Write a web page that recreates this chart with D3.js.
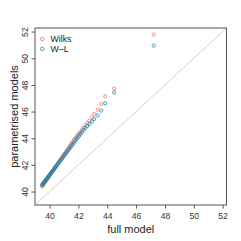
<!DOCTYPE html>
<html><head><meta charset="utf-8">
<script src="https://cdn.jsdelivr.net/npm/d3@7"></script>
<style>html,body{margin:0;padding:0;background:#fff;}svg{display:block;}</style>
</head><body>
<svg id="c" width="241" height="241"></svg>
<script>
const fullModel = [39.48,39.52,39.56,39.60,39.64,39.68,39.72,39.76,39.80,39.84,39.88,39.92,39.96,40.00,40.05,40.10,40.15,40.20,40.25,40.30,40.35,40.40,40.46,40.52,40.58,40.64,40.70,40.77,40.84,40.91,40.98,41.05,41.12,41.20,41.28,41.36,41.44,41.52,41.60,41.69,41.78,41.87,41.96,42.05,42.15,42.25,42.36,42.48,42.62,42.76,42.94,43.10,43.34,43.59,43.86,44.48,47.22];
const wilks = [40.38,40.44,40.51,40.57,40.63,40.70,40.76,40.82,40.89,40.95,41.01,41.08,41.14,41.20,41.28,41.36,41.44,41.52,41.60,41.68,41.75,41.83,41.93,42.02,42.12,42.21,42.31,42.42,42.53,42.64,42.75,42.86,42.97,43.10,43.22,43.35,43.48,43.60,43.73,43.87,44.01,44.13,44.25,44.37,44.50,44.64,44.80,44.96,45.14,45.32,45.56,45.82,46.14,46.57,47.14,47.72,51.78];
const wl = [40.50,40.56,40.61,40.67,40.73,40.79,40.84,40.90,40.96,41.01,41.07,41.13,41.19,41.24,41.32,41.39,41.46,41.53,41.60,41.67,41.74,41.82,41.90,41.99,42.07,42.16,42.24,42.34,42.44,42.54,42.65,42.75,42.85,42.96,43.07,43.19,43.30,43.42,43.53,43.66,43.79,43.92,44.05,44.17,44.32,44.46,44.62,44.78,44.92,45.07,45.26,45.45,45.71,46.07,46.62,47.43,50.95];
const ticks = [40,42,44,46,48,50,52];
const seriesNames = ["Wilks","W\u2013L"];
const domain = [38.99, 52.27];

const colors = ["#E8786C","#2A82A3"];
const svg = d3.select("#c");
const L=35, R=226.5, T=28, B=205;
const x = d3.scaleLinear().domain(domain).range([L,R]);
const y = d3.scaleLinear().domain(domain).range([B,T]);
const font = "'Liberation Sans', Arial, sans-serif";

// diagonal
svg.append("line").attr("x1",x(domain[0])).attr("y1",y(domain[0]))
  .attr("x2",x(domain[1])).attr("y2",y(domain[1]))
  .attr("stroke","#d0d0d0").attr("stroke-width",1);

const series = [wilks, wl];
series.forEach((s,i)=>{
  svg.append("g").selectAll("circle").data(fullModel.map((v,j)=>[v,s[j]])).join("circle")
    .attr("cx",d=>x(d[0])).attr("cy",d=>y(d[1])).attr("r",1.6)
    .attr("fill","none").attr("stroke",colors[i]).attr("stroke-width",0.8);
});

// box
svg.append("rect").attr("x",L).attr("y",T).attr("width",R-L).attr("height",B-T)
  .attr("fill","none").attr("stroke","#555").attr("stroke-width",1);

// axes
const xa = svg.append("g").attr("transform",`translate(0,${B})`)
  .call(d3.axisBottom(x).tickValues(ticks).tickSize(3.5).tickPadding(2).tickFormat(d3.format("d")));
const ya = svg.append("g").attr("transform",`translate(${L},0)`)
  .call(d3.axisLeft(y).tickValues(ticks).tickSize(3.5).tickPadding(2).tickFormat(d3.format("d")));
[xa,ya].forEach(a=>{
  a.select(".domain").remove();
  a.selectAll(".tick line").attr("stroke","#555");
  a.selectAll("text").attr("font-family",font).attr("font-size",8.6).attr("fill","#333");
});
ya.selectAll(".tick text").attr("transform","rotate(-90)").attr("x",0).attr("y",-7)
  .attr("dy",0).attr("text-anchor","middle");
xa.selectAll(".tick text").attr("dy",0).attr("y",13.8);

svg.append("text").attr("x",(L+R)/2).attr("y",233).attr("text-anchor","middle")
  .attr("font-family",font).attr("font-size",11).attr("fill","#222").text("full model");
svg.append("text").attr("transform",`translate(18,${(T+B)/2}) rotate(-90)`).attr("text-anchor","middle")
  .attr("font-family",font).attr("font-size",11).attr("fill","#222").text("parametrised models");

// legend
seriesNames.forEach((n,i)=>{
  const ly = 39 + i*10;
  svg.append("circle").attr("cx",42.3).attr("cy",ly).attr("r",1.8).attr("fill","none")
    .attr("stroke",colors[i]).attr("stroke-width",0.8);
  svg.append("text").attr("x",50.5).attr("y",ly+3.2).attr("font-family",font).attr("font-size",8.8)
    .attr("fill","#222").text(n);
});
</script>
</body></html>
